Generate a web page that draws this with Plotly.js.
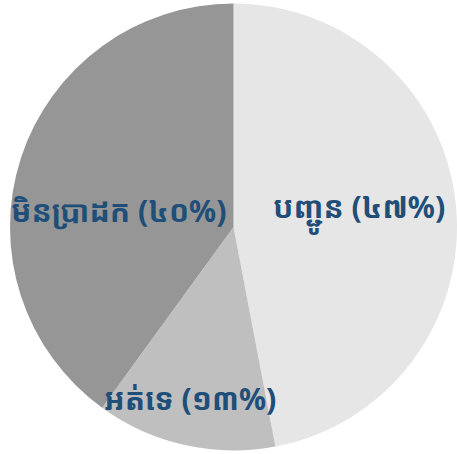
<!DOCTYPE html>
<html>
<head>
<meta charset="utf-8">
<script src="https://cdn.plot.ly/plotly-3.0.1.min.js"></script>
<style>html,body{margin:0;padding:0;background:#fff;}</style>
</head>
<body>
<div id="chart" style="width:457px;height:454px;"></div>
<script>
const categories = ["បញ្ជូន", "អត់ទេ", "មិនប្រាដក"];
const values = [47, 13, 40];
const percentLabels = ["៤៧%", "១៣%", "៤០%"];
const colors = ["#e6e6e6", "#bfbfbf", "#969696"];
const labelPos = [[0.781, 0.537], [0.403, 0.122], [0.242, 0.537]];

const texts = categories.map((c, i) => c + " (" + percentLabels[i] + ")");
const font = {family: "Noto Sans Khmer, Noto Sans, DejaVu Sans, sans-serif", size: 30, color: "#1f4e79", weight: "bold"};

Plotly.newPlot("chart", [{
  type: "pie",
  labels: categories,
  values: values,
  textinfo: "none",
  hoverinfo: "none",
  sort: false,
  direction: "clockwise",
  rotation: 0,
  marker: {colors: colors, line: {width: 0}}
}], {
  width: 457, height: 454,
  margin: {l: 10, r: 0, t: 0, b: 0},
  showlegend: false,
  paper_bgcolor: "#ffffff",
  annotations: texts.map((t, i) => ({
    text: "<b>" + t + "</b>", x: labelPos[i][0], y: labelPos[i][1],
    xref: "paper", yref: "paper", xanchor: "center", yanchor: "middle",
    showarrow: false, font: font
  }))
}, {displayModeBar: false, staticPlot: true});
</script>
</body>
</html>
